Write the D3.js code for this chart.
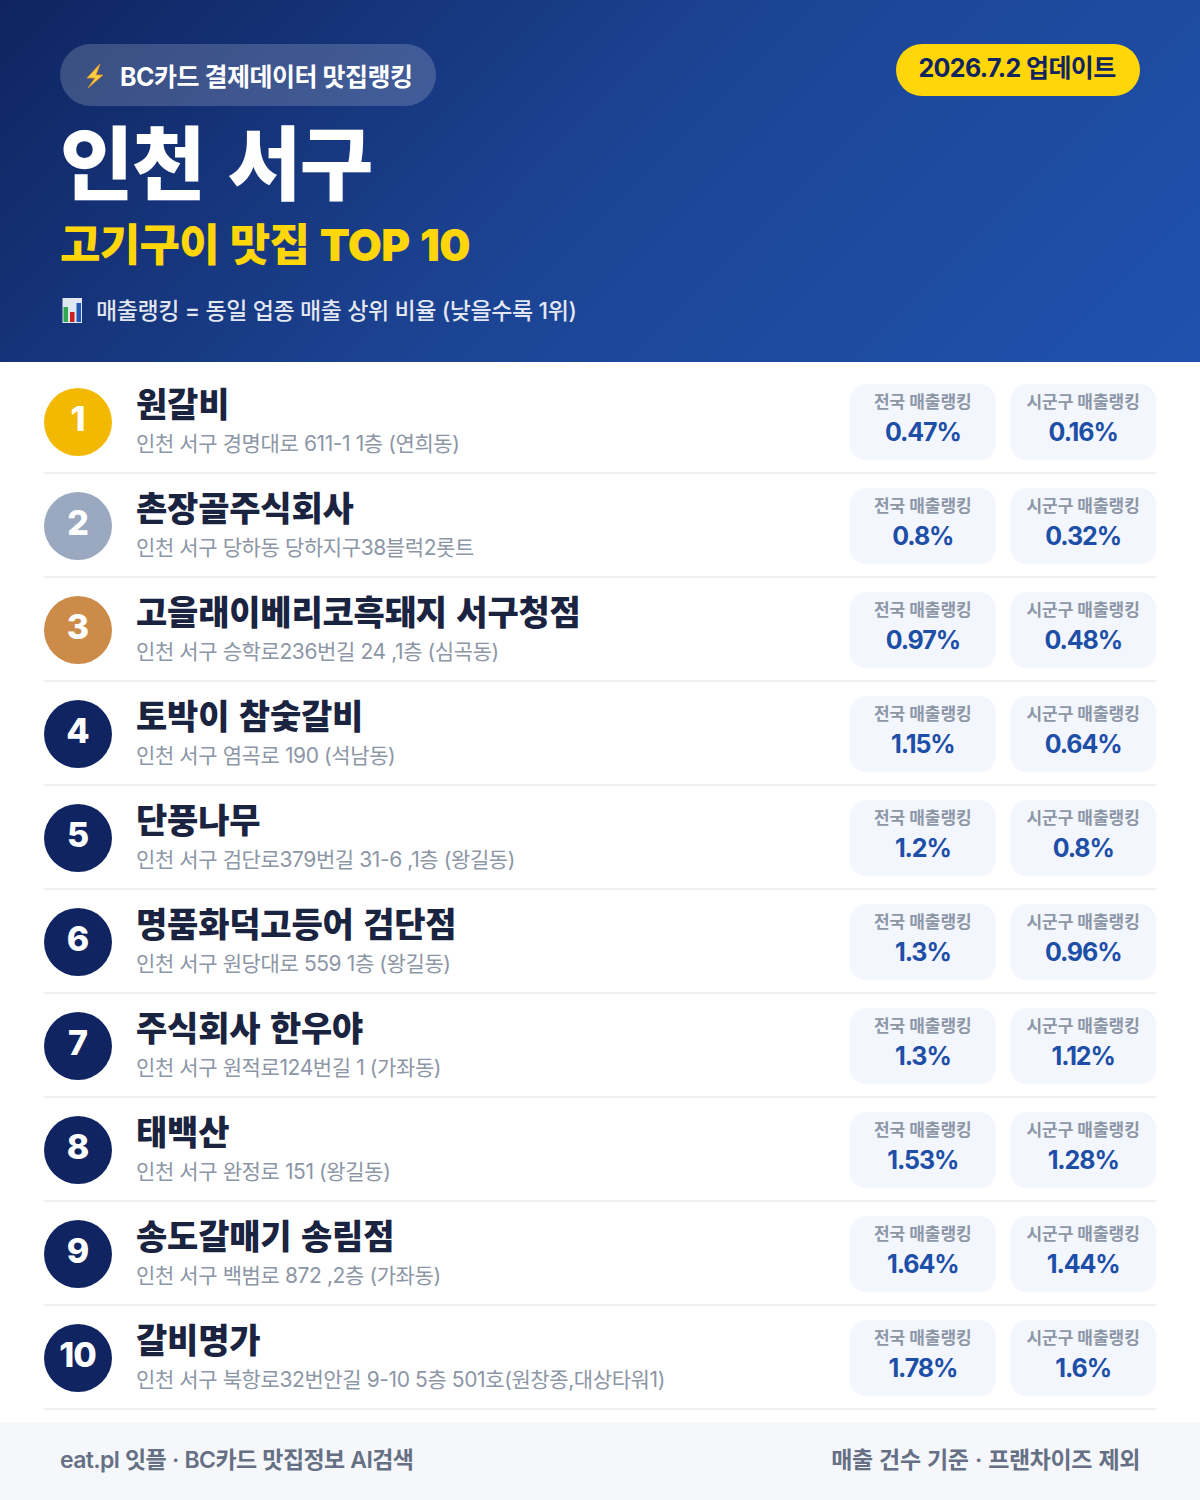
<!DOCTYPE html>
<html lang="ko">
<head>
<meta charset="utf-8">
<script src="https://cdn.jsdelivr.net/npm/d3@7"></script>
<style>
  html, body { margin: 0; padding: 0; background: #fff; }
  svg { display: block; }
  text { font-family: Inter, "Noto Sans CJK KR", sans-serif; }
</style>
</head>
<body>
<svg id="root"></svg>
<script>
// Ranking data
const ranks = [1, 2, 3, 4, 5, 6, 7, 8, 9, 10];
const names = ["원갈비", "촌장골주식회사", "고을래이베리코흑돼지 서구청점", "토박이 참숯갈비", "단풍나무",
  "명품화덕고등어 검단점", "주식회사 한우야", "태백산", "송도갈매기 송림점", "갈비명가"];
const addresses = ["인천 서구 경명대로 611-1 1층 (연희동)", "인천 서구 당하동 당하지구38블럭2롯트",
  "인천 서구 승학로236번길 24 ,1층 (심곡동)", "인천 서구 염곡로 190 (석남동)",
  "인천 서구 검단로379번길 31-6 ,1층 (왕길동)", "인천 서구 원당대로 559 1층 (왕길동)",
  "인천 서구 원적로124번길 1 (가좌동)", "인천 서구 완정로 151 (왕길동)",
  "인천 서구 백범로 872 ,2층 (가좌동)", "인천 서구 북항로32번안길 9-10 5층 501호(원창종,대상타워1)"];
const nationalRank = [0.47, 0.8, 0.97, 1.15, 1.2, 1.3, 1.3, 1.53, 1.64, 1.78];
const districtRank = [0.16, 0.32, 0.48, 0.64, 0.8, 0.96, 1.12, 1.28, 1.44, 1.6];
const cardLabels = ["전국 매출랭킹", "시군구 매출랭킹"];

const width = 1200, height = 1500;
const navy = "#0f2460", blue = "#1e4fa8", yellow = "#ffd60a";

const svg = d3.select("#root").attr("width", width).attr("height", height);

// Header background
const grad = svg.append("defs").append("linearGradient")
  .attr("id", "header-grad")
  .attr("gradientUnits", "userSpaceOnUse")
  .attr("x1", 209.5).attr("y1", -209.5)
  .attr("x2", 990.5).attr("y2", 571.5);
grad.append("stop").attr("offset", "0%").attr("stop-color", navy);
grad.append("stop").attr("offset", "50%").attr("stop-color", "#1c4494");
grad.append("stop").attr("offset", "100%").attr("stop-color", "#1f52ae");

svg.append("rect").attr("width", width).attr("height", height).attr("fill", "#fff");
svg.append("rect").attr("width", width).attr("height", 362).attr("fill", "url(#header-grad)");

// Source pill
svg.append("rect").attr("x", 60).attr("y", 44).attr("width", 376).attr("height", 62).attr("rx", 31)
  .attr("fill", "#fff").attr("fill-opacity", 0.18);
svg.append("path")
  .attr("d", "M100 64 L87 78 L95 78 L88 88 L103 75 L96 75 Z")
  .attr("fill", "#fbcf3f").attr("stroke", "#e8942a").attr("stroke-width", 0.8);
svg.append("text").attr("x", 120).attr("y", 85.5).attr("font-size", 25).attr("font-weight", 700)
  .attr("letter-spacing", -0.5).attr("fill", "#fff").text("BC카드 결제데이터 맛집랭킹");

// Update pill
svg.append("rect").attr("x", 896).attr("y", 44).attr("width", 244).attr("height", 52).attr("rx", 26)
  .attr("fill", yellow);
svg.append("text").attr("x", 1017).attr("y", 77).attr("text-anchor", "middle")
  .attr("font-size", 25).attr("font-weight", 700).attr("letter-spacing", -0.6).attr("fill", navy)
  .text("2026.7.2 업데이트");

// Titles
svg.append("text").attr("x", 60).attr("y", 193).attr("font-size", 80).attr("font-weight", 900)
  .attr("letter-spacing", -1.5).attr("word-spacing", 9).attr("fill", "#fff").text("인천 서구");
svg.append("text").attr("x", 60).attr("y", 261).attr("font-size", 44).attr("font-weight", 900)
  .attr("letter-spacing", -0.7).attr("word-spacing", 2.5).attr("fill", yellow).text("고기구이 맛집 TOP 10");

// Small bar chart icon next to the note
const icon = svg.append("g").attr("transform", "translate(62.5,298)");
icon.append("rect").attr("width", 19.5).attr("height", 25).attr("fill", "#dfe8f0");
icon.append("rect").attr("x", 1).attr("y", 9).attr("width", 4.5).attr("height", 15).attr("fill", "#2fa84f");
icon.append("rect").attr("x", 7.5).attr("y", 14).attr("width", 4.5).attr("height", 10).attr("fill", "#cc2020");
icon.append("rect").attr("x", 14).attr("y", 5).attr("width", 4.5).attr("height", 19).attr("fill", "#2456b5");
svg.append("text").attr("x", 96).attr("y", 319).attr("font-size", 23).attr("font-weight", 500)
  .attr("letter-spacing", -0.4).attr("fill", "#fff").attr("fill-opacity", 0.88)
  .text("매출랭킹 = 동일 업종 매출 상위 비율 (낮을수록 1위)");

// List rows
const rowY = d3.scaleBand().domain(ranks).range([370, 1410]);
const badgeColor = d3.scaleOrdinal().domain([1, 2, 3]).range(["#f2b900", "#9aa8c0", "#cd8b4a"]).unknown(navy);

const rows = svg.selectAll("g.row").data(ranks).join("g")
  .attr("class", "row")
  .attr("transform", d => `translate(0,${rowY(d)})`);

rows.append("rect").attr("x", 44).attr("y", 102).attr("width", 1112).attr("height", 2).attr("fill", "#eef0f3");
rows.append("circle").attr("cx", 78).attr("cy", 52).attr("r", 34).attr("fill", d => badgeColor(d));
rows.append("text").attr("x", 77.5).attr("y", 61).attr("text-anchor", "middle")
  .attr("font-size", 34).attr("font-weight", 800).attr("letter-spacing", -1).attr("fill", "#fff")
  .text(d => d);
rows.append("text").attr("x", 136).attr("y", 47).attr("font-size", 34).attr("font-weight", 900)
  .attr("letter-spacing", -0.2).attr("word-spacing", 3).attr("fill", "#1a2340")
  .text((d, i) => names[i]);
rows.append("text").attr("x", 136).attr("y", 81).attr("font-size", 21).attr("font-weight", 400)
  .attr("letter-spacing", -0.4).attr("fill", "#8c96a6")
  .text((d, i) => addresses[i]);

// Two ranking cards per row
const cardX = d3.scaleBand().domain([0, 1]).range([850, 1156]).paddingInner(14 / 153);
[nationalRank, districtRank].forEach((values, c) => {
  const cards = rows.append("g").attr("transform", `translate(${cardX(c)},14)`);
  cards.append("rect").attr("width", cardX.bandwidth()).attr("height", 76).attr("rx", 16).attr("fill", "#f3f6fc");
  cards.append("text").attr("x", cardX.bandwidth() / 2).attr("y", 24).attr("text-anchor", "middle")
    .attr("font-size", 17).attr("font-weight", 700).attr("fill", "#8c96a6")
    .text(cardLabels[c]);
  cards.append("text").attr("x", cardX.bandwidth() / 2).attr("y", 57).attr("text-anchor", "middle")
    .attr("font-size", 25).attr("font-weight", 700).attr("letter-spacing", -1.1).attr("fill", blue)
    .text((d, i) => values[i] + "%");
});

// Footer
svg.append("rect").attr("y", 1422).attr("width", width).attr("height", 78).attr("fill", "#f5f7fb");
svg.append("text").attr("x", 60).attr("y", 1468).attr("font-size", 23).attr("font-weight", 600)
  .attr("letter-spacing", -0.6).attr("word-spacing", 0.6).attr("fill", "#667085").text("eat.pl 잇플 · BC카드 맛집정보 AI검색");
svg.append("text").attr("x", 1140).attr("y", 1468).attr("text-anchor", "end").attr("font-size", 23).attr("font-weight", 600)
  .attr("letter-spacing", -0.4).attr("word-spacing", 1).attr("fill", "#667085").text("매출 건수 기준 · 프랜차이즈 제외");
</script>
</body>
</html>
